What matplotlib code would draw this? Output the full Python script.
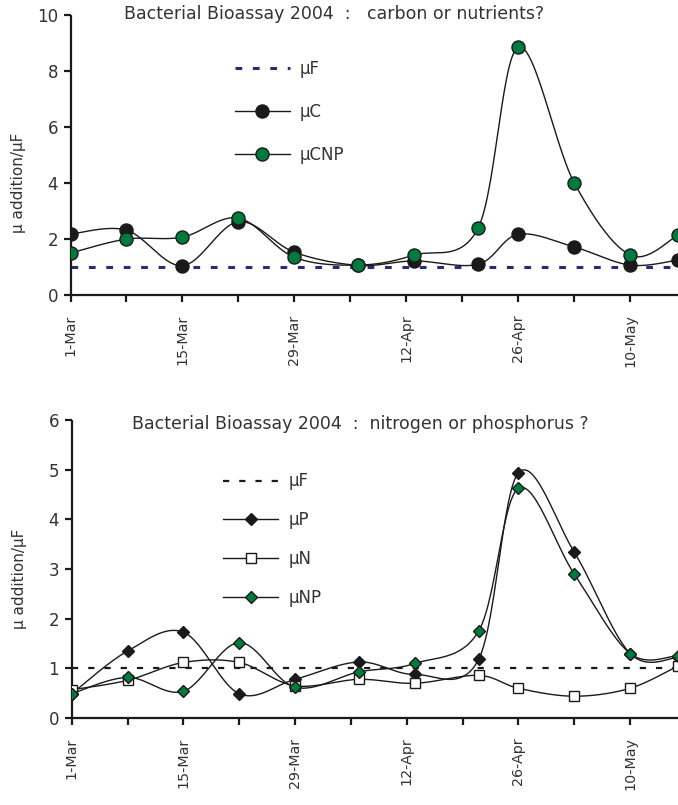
import numpy as np
import pandas as pd
import matplotlib
matplotlib.use('Agg')
import matplotlib.pyplot as plt
import matplotlib.dates as mdates
from matplotlib.lines import Line2D

# sampling dates (both panels)
dates = pd.to_datetime(['2004-03-01', '2004-03-08', '2004-03-15', '2004-03-22',
                        '2004-03-29', '2004-04-06', '2004-04-13', '2004-04-21',
                        '2004-04-26', '2004-05-03', '2004-05-10', '2004-05-16'])

# top panel: carbon or nutrients
mu_f = [1.0] * 12
mu_c = [2.18, 2.32, 1.05, 2.62, 1.53, 1.06, 1.22, 1.10, 2.17, 1.72, 1.07, 1.25]
mu_cnp = [1.50, 2.00, 2.07, 2.75, 1.35, 1.07, 1.43, 2.40, 8.86, 4.02, 1.43, 2.14]

# bottom panel: nitrogen or phosphorus
mu_p = [0.49, 1.35, 1.73, 0.49, 0.78, 1.13, 0.88, 1.18, 4.94, 3.34, 1.30, 1.22]
mu_n = [0.57, 0.76, 1.12, 1.12, 0.65, 0.78, 0.70, 0.86, 0.60, 0.44, 0.60, 1.05]
mu_np = [0.49, 0.82, 0.54, 1.52, 0.62, 0.93, 1.10, 1.75, 4.63, 2.90, 1.30, 1.26]

TXT = '#333333'
GREEN = '#007a3d'
NAVY = '#2a2a7c'


def smooth(x, y, n=30):
    # Excel style smoothed line (Catmull-Rom through the points)
    pts = np.column_stack([x, y])
    P = np.vstack([pts[0], pts, pts[-1]])
    t = np.linspace(0, 1, n)[:, None]
    out = []
    for i in range(1, len(P) - 2):
        p0, p1, p2, p3 = P[i - 1], P[i], P[i + 1], P[i + 2]
        c1 = p1 + (p2 - p0) / 6
        c2 = p2 - (p3 - p1) / 6
        seg = (1 - t)**3 * p1 + 3 * (1 - t)**2 * t * c1 + 3 * (1 - t) * t**2 * c2 + t**3 * p2
        out.append(seg if i == 1 else seg[1:])
    s = np.vstack(out)
    return s[:, 0], s[:, 1]


def series(ax, x, y, marker, face, ms, z):
    sx, sy = smooth(x, y)
    ax.plot(sx, sy, color='#1a1a1a', lw=1.0, zorder=z)
    ax.plot(x, y, ls='none', marker=marker, ms=ms, mfc=face, mec='#1a1a1a',
            mew=1.0, zorder=z + 0.5)
    return Line2D([], [], color='#1a1a1a', lw=1.0, marker=marker, ms=ms,
                  mfc=face, mec='#1a1a1a', mew=1.0)


def style_axis(ax, ymax, ystep, right_days, ylab_y):
    x0 = mdates.date2num(pd.Timestamp('2004-03-01'))
    major = [x0 + 14 * k for k in range(6)]
    minor = [x0 + 7 + 14 * k for k in range(6) if 7 + 14 * k <= right_days]
    ax.set_xticks(major)
    ax.set_xticks(minor, minor=True)
    ax.set_xticklabels([f"{mdates.num2date(m).day}-{mdates.num2date(m).strftime('%b')}"
                        for m in major], rotation=90)
    ax.set_xlim(x0, x0 + right_days)
    ax.set_ylim(0, ymax)
    ax.set_yticks(np.arange(0, ymax + 0.1, ystep))
    for s in ['top', 'right']:
        ax.spines[s].set_visible(False)
    for s in ['left', 'bottom']:
        ax.spines[s].set_linewidth(1.6)
        ax.spines[s].set_color('#1a1a1a')
        ax.spines[s].set_capstyle('butt')
    ax.tick_params(axis='both', which='both', direction='out', length=5, width=1.6,
                   color='#1a1a1a', labelcolor=TXT)
    ax.tick_params(axis='y', labelsize=12, pad=4)
    ax.tick_params(axis='x', labelsize=10.3, pad=9)
    ax.set_ylabel('\u03bc addition/\u03bcF', fontsize=11, color=TXT)
    ax.yaxis.set_label_coords(-0.074, ylab_y)
    for lbl in ax.get_xticklabels():
        lbl.set_va('top')


fig = plt.figure(figsize=(6.78, 8.05), dpi=100)

# ---- top panel
ax1 = fig.add_axes([0.104, 0.6335, 0.896, 0.3475])
ax1.plot(dates, mu_f, color=NAVY, lw=2.2, dashes=(2.2, 3.5), zorder=2)
h_f1 = Line2D([], [], color=NAVY, lw=2.2, dashes=(2.2, 3.5))
h_c = series(ax1, mdates.date2num(dates), mu_c, 'o', '#1a1a1a', 9.4, 3)
h_cnp = series(ax1, mdates.date2num(dates), mu_cnp, 'o', GREEN, 9.4, 4)
style_axis(ax1, 10, 2, 76.0, 0.40)
leg = ax1.legend([h_f1, h_c, h_cnp], ['\u03bcF', '\u03bcC', '\u03bcCNP'],
                 loc='upper left', bbox_to_anchor=(0.27, 0.84), frameon=False,
                 fontsize=12, handlelength=3.3, handletextpad=0.6, labelspacing=1.5,
                 borderpad=0, borderaxespad=0)
for t in leg.get_texts():
    t.set_color(TXT)
fig.text(0.493, 0.982, 'Bacterial Bioassay 2004  :   carbon or nutrients?',
         fontsize=12.5, color=TXT, ha='center', va='center')

# ---- bottom panel
ax2 = fig.add_axes([0.1058, 0.108, 0.8942, 0.37])
ax2.plot(dates, mu_f, color='#1a1a1a', lw=1.6, dashes=(2.8, 4.5), zorder=2)
h_f2 = Line2D([], [], color='#1a1a1a', lw=1.6, dashes=(2.8, 4.5))
h_p = series(ax2, mdates.date2num(dates), mu_p, 'D', '#1a1a1a', 6.6, 3)
h_n = series(ax2, mdates.date2num(dates), mu_n, 's', 'white', 7.2, 4)
h_np = series(ax2, mdates.date2num(dates), mu_np, 'D', GREEN, 6.6, 5)
style_axis(ax2, 6, 1, 76.0, 0.466)
leg2 = ax2.legend([h_f2, h_p, h_n, h_np], ['\u03bcF', '\u03bcP', '\u03bcN', '\u03bcNP'],
                  loc='upper left', bbox_to_anchor=(0.25, 0.825), frameon=False,
                  fontsize=12, handlelength=3.3, handletextpad=0.6, labelspacing=1.25,
                  borderpad=0, borderaxespad=0)
for t in leg2.get_texts():
    t.set_color(TXT)
fig.text(0.531, 0.473, 'Bacterial Bioassay 2004  :  nitrogen or phosphorus ?',
         fontsize=12.5, color=TXT, ha='center', va='center')

fig.savefig('out.png', dpi=100)
